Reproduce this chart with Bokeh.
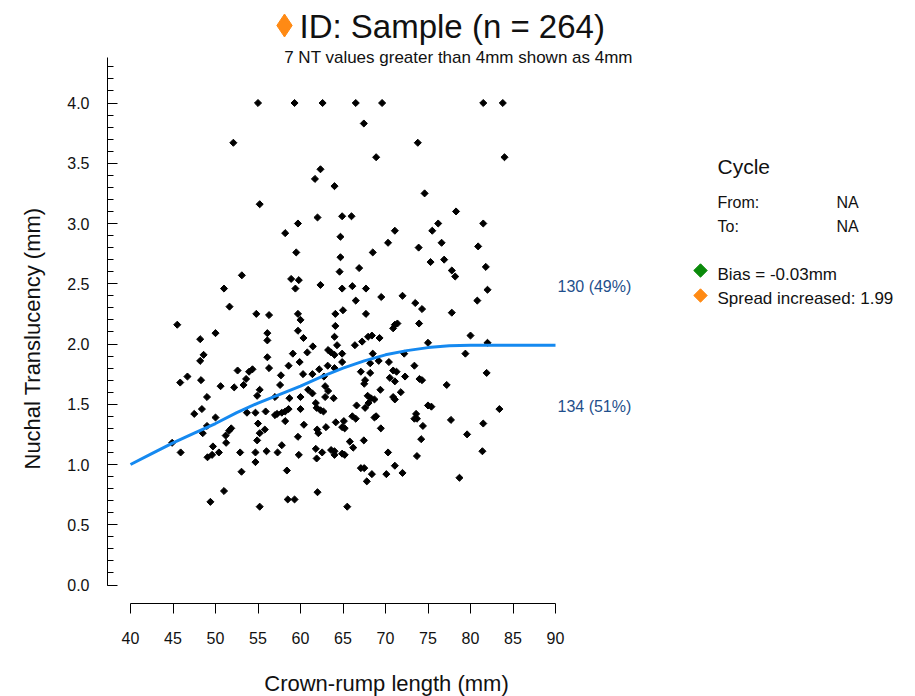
import math
from bokeh.plotting import figure
from bokeh.models import Range1d, FixedTicker, PrintfTickFormatter, Label
from bokeh.embed import file_html
from bokeh.resources import INLINE

# ---------------- data ----------------
pts_x = [
    55.0, 52.1, 55.2, 53.1, 51.0,
    59.3, 62.6, 66.5, 69.6, 67.45, 68.9, 62.35, 61.7, 64.0, 62.0, 64.9, 66.0, 59.7, 58.2, 64.7,
    71.1, 70.3, 59.5, 64.7, 68.5, 66.9, 64.6, 58.9, 59.8, 59.4, 62.35, 64.9, 66.1, 67.7, 66.5,
    69.5, 72.0,
    81.5, 83.8, 73.8, 84.0, 74.6, 78.3, 76.2, 81.5, 75.5, 76.6, 73.9, 80.9, 75.3, 76.9, 77.8,
    78.2, 81.8, 82.0, 80.8, 73.5,
    51.65, 54.8, 45.5, 50.0, 48.2, 48.6, 48.2, 52.6, 53.95, 54.35, 53.6, 46.7, 45.85, 48.3, 50.6,
    52.2, 53.3, 55.2, 49.0, 54.9, 48.4, 47.5, 50.0, 53.7, 54.7, 49.0, 51.85, 51.6, 51.2, 48.5,
    55.0, 55.2, 54.9, 51.25, 44.9, 49.7, 45.9, 49.06, 49.6, 50.4, 52.9, 54.7, 54.7, 53.06, 51.0,
    49.4, 55.2,
    56.3, 59.7, 60.0, 64.1, 65.0, 67.7, 64.1, 59.7, 56.1, 56.1, 60.35, 64.0, 71.1, 71.4, 70.9,
    68.4, 67.95, 67.25, 66.4, 69.3, 64.3, 61.45, 60.8, 63.25, 63.6, 64.0, 64.9, 59.1, 56.1, 68.5,
    68.2, 69.2, 59.9, 64.9, 58.6, 70.4, 56.3, 63.2, 64.0, 62.2, 60.3, 61.4, 62.75, 57.7, 67.1,
    68.2, 70.9, 71.3, 70.5, 71.1, 72.3, 67.6, 67.5, 62.9, 57.6, 60.9, 61.4, 63.25, 62.9, 63.9,
    60.0, 58.7, 57.0, 69.4, 71.8, 70.9, 71.1, 67.9, 68.3, 68.7, 68.0, 67.6, 66.6, 61.8, 61.9,
    62.35, 62.7, 60.0, 58.6, 58.2, 57.8, 57.0, 57.25, 55.9, 66.5, 66.1, 68.9, 68.7, 58.2, 64.15,
    65.1, 64.9, 65.2, 60.4, 61.96, 62.1, 63.0, 69.45, 55.8, 59.7, 57.8, 61.8, 63.6, 64.0, 65.8,
    66.2, 67.45, 62.55, 56.0, 57.3, 59.8, 61.9, 64.0, 64.9, 65.2, 70.3, 58.4, 67.1, 67.5, 68.4,
    67.8, 70.1, 71.1, 72.0, 62.0, 58.5, 59.3, 65.5,
    74.3, 77.8, 73.95, 80.0, 75.0, 82.0, 72.2, 79.4, 73.4, 74.0, 74.3, 81.9, 77.2, 75.0, 75.4,
    83.4, 73.6, 73.4, 73.7, 74.4, 77.7, 81.5, 79.6, 74.2, 81.4, 73.7, 78.7,
]
pts_y = [
    4.0, 3.67, 3.16, 2.57, 2.46,
    4.0, 4.0, 4.0, 4.0, 3.83, 3.55, 3.45, 3.37, 3.31, 3.05, 3.06, 3.06, 3.0, 2.92, 2.89,
    2.94, 2.84, 2.76, 2.72, 2.76, 2.63, 2.60, 2.54, 2.53, 2.46, 2.49, 2.46, 2.48, 2.46, 2.36,
    2.39, 2.40,
    4.0, 4.0, 3.67, 3.55, 3.25, 3.10, 3.0, 3.0, 2.94, 2.84, 2.80, 2.81, 2.68, 2.70, 2.61,
    2.56, 2.64, 2.45, 2.36, 2.34,
    2.31, 2.25, 2.16, 2.09, 2.04, 1.91, 1.86, 1.78, 1.77, 1.79, 1.71, 1.73, 1.68, 1.70, 1.65,
    1.64, 1.66, 1.62, 1.56, 1.57, 1.46, 1.42, 1.39, 1.43, 1.43, 1.32, 1.30, 1.28, 1.24, 1.26,
    1.34, 1.26, 1.20, 1.18, 1.18, 1.15, 1.10, 1.06, 1.08, 1.10, 1.10, 1.10, 1.02, 0.94, 0.78,
    0.69, 0.65,
    2.24, 2.25, 2.20, 2.25, 2.28, 2.25, 2.15, 2.11, 2.09, 2.03, 2.05, 2.06, 2.16, 2.17, 2.13,
    2.07, 2.06, 2.02, 1.99, 2.05, 1.99, 1.98, 1.93, 1.95, 1.93, 1.91, 1.92, 1.92, 1.89, 1.92,
    1.84, 1.86, 1.85, 1.85, 1.82, 1.85, 1.80, 1.82, 1.80, 1.79, 1.75, 1.75, 1.73, 1.74, 1.77,
    1.76, 1.78, 1.77, 1.72, 1.69, 1.73, 1.70, 1.67, 1.65, 1.66, 1.62, 1.59, 1.61, 1.56, 1.55,
    1.56, 1.55, 1.56, 1.62, 1.60, 1.56, 1.54, 1.57, 1.55, 1.54, 1.51, 1.47, 1.49, 1.51, 1.47,
    1.45, 1.44, 1.46, 1.46, 1.44, 1.43, 1.41, 1.42, 1.44, 1.38, 1.40, 1.40, 1.39, 1.36, 1.35,
    1.36, 1.31, 1.30, 1.33, 1.29, 1.26, 1.31, 1.30, 1.29, 1.23, 1.16, 1.13, 1.12, 1.11, 1.19,
    1.14, 1.20, 1.10, 1.11, 1.10, 1.08, 1.05, 1.08, 1.09, 1.08, 1.10, 0.95, 0.97, 0.97, 0.92,
    0.86, 0.92, 0.99, 0.93, 0.77, 0.71, 0.71, 0.65,
    2.29, 2.26, 2.17, 2.07, 2.01, 2.01, 1.92, 1.92, 1.82, 1.71, 1.70, 1.76, 1.66, 1.49, 1.48,
    1.46, 1.42, 1.38, 1.38, 1.32, 1.37, 1.34, 1.25, 1.21, 1.11, 1.07, 0.89,
]

curve_x = [40, 42.5, 45, 47.5, 50, 52.5, 55, 57.5, 60, 62.5, 65, 67.5, 70, 72.5, 75, 77.5, 80, 82.5, 85, 87.5, 90]
curve_y = [1.00, 1.09, 1.18, 1.26, 1.34, 1.43, 1.51, 1.58, 1.65, 1.73, 1.80, 1.86, 1.91, 1.945, 1.97, 1.985, 1.99, 1.99, 1.99, 1.99, 1.99]

x_ticks = [40, 45, 50, 55, 60, 65, 70, 75, 80, 85, 90]
y_ticks = [0.0, 0.5, 1.0, 1.5, 2.0, 2.5, 3.0, 3.5, 4.0]
y_minor = [round(0.1 * i, 1) for i in range(0, 44)]

title_text = "ID: Sample (n = 264)"
subtitle_text = "7 NT values greater than 4mm shown as 4mm"
x_label = "Crown-rump length (mm)"
y_label = "Nuchal Translucency (mm)"
above_text = "130 (49%)"
below_text = "134 (51%)"
legend_head = "Cycle"
from_label, from_val = "From:", "NA"
to_label, to_val = "To:", "NA"
bias_text = "Bias = -0.03mm"
spread_text = "Spread increased: 1.99"

# ---------------- layout helpers (picture px -> data) ----------------
PX_PER_X = 8.5
PX_PER_Y = 120.5
X0_PX = 130.0      # px of x=40
Y0_PX = 584.5      # px of y=0
AXIS_X_PX = 107    # where the y axis line sits
AXIS_Y_PX = 603    # where the x axis line sits
W, H = 907, 696


def dx(px):
    return 40 + (px - X0_PX) / PX_PER_X


def dy(py):
    return (Y0_PX - py) / PX_PER_Y


FONT = "Liberation Sans"
TXT = "#111111"

# the frame fills the whole canvas; the axes are pinned where the reference draws them
p = figure(width=W, height=H, x_range=Range1d(dx(0), dx(W)), y_range=Range1d(dy(H), dy(0)),
           output_backend="svg", toolbar_location=None,
           min_border_left=0, min_border_right=0, min_border_top=0, min_border_bottom=0)
p.grid.visible = False
p.outline_line_color = None
p.background_fill_color = "white"
p.border_fill_color = "white"

# axes
xa = p.xaxis[0]
xa.fixed_location = dy(AXIS_Y_PX)
xa.bounds = (40, 90)
xa.ticker = FixedTicker(ticks=x_ticks)
xa.major_tick_in = 0
xa.major_tick_out = 10
xa.minor_tick_line_color = None
xa.axis_line_color = "black"
xa.major_tick_line_color = "black"
xa.major_label_text_font = FONT
xa.major_label_text_font_size = "16px"
xa.major_label_text_color = TXT
xa.major_label_standoff = 18

ya = p.yaxis[0]
ya.fixed_location = dx(AXIS_X_PX)
ya.bounds = (0, 4.38)
ya.ticker = FixedTicker(ticks=y_ticks, minor_ticks=y_minor)
ya.formatter = PrintfTickFormatter(format="%.1f")
ya.major_tick_in = 10
ya.major_tick_out = 0
ya.minor_tick_in = 6
ya.minor_tick_out = 0
ya.axis_line_color = "black"
ya.major_tick_line_color = "black"
ya.minor_tick_line_color = "black"
ya.major_label_text_font = FONT
ya.major_label_text_font_size = "16px"
ya.major_label_text_color = TXT
ya.major_label_standoff = 18

# data
p.scatter(pts_x, pts_y, marker="square", angle=math.pi / 4, size=5, color="black")
p.line(curve_x, curve_y, line_color="#1589F0", line_width=3)


def add_label(text, px, py, size, color=TXT, align="left", angle=0.0):
    p.add_layout(Label(x=dx(px), y=dy(py), text=text, text_font=FONT, text_font_size=size,
                       text_color=color, text_align=align, text_baseline="middle", angle=angle))


# axis titles
add_label(x_label, 386, 683, "22px", align="center")
add_label(y_label, 32, 338, "22px", align="center", angle=math.pi / 2)

# heading
p.scatter([dx(284)], [dy(25)], marker="diamond", size=23, color="#FF8A14")
add_label(title_text, 299, 26, "33px")
add_label(subtitle_text, 458, 57, "17px", align="center")

# split counts
add_label(above_text, 557, 286, "16px", color="#1F4F8C")
add_label(below_text, 557, 406, "16px", color="#1F4F8C")

# legend panel
add_label(legend_head, 717, 166, "21px")
add_label(from_label, 717, 202, "16px")
add_label(from_val, 836, 202, "16px")
add_label(to_label, 717, 226, "16px")
add_label(to_val, 836, 226, "16px")
p.scatter([dx(700)], [dy(270)], marker="square", angle=math.pi / 4, size=9.5, color="#0A8A0A")
p.scatter([dx(700)], [dy(295)], marker="square", angle=math.pi / 4, size=9.5, color="#FF8A14")
add_label(bias_text, 717, 274, "17px")
add_label(spread_text, 717, 298, "17px")

open("out.html", "w").write(file_html(p, INLINE))
